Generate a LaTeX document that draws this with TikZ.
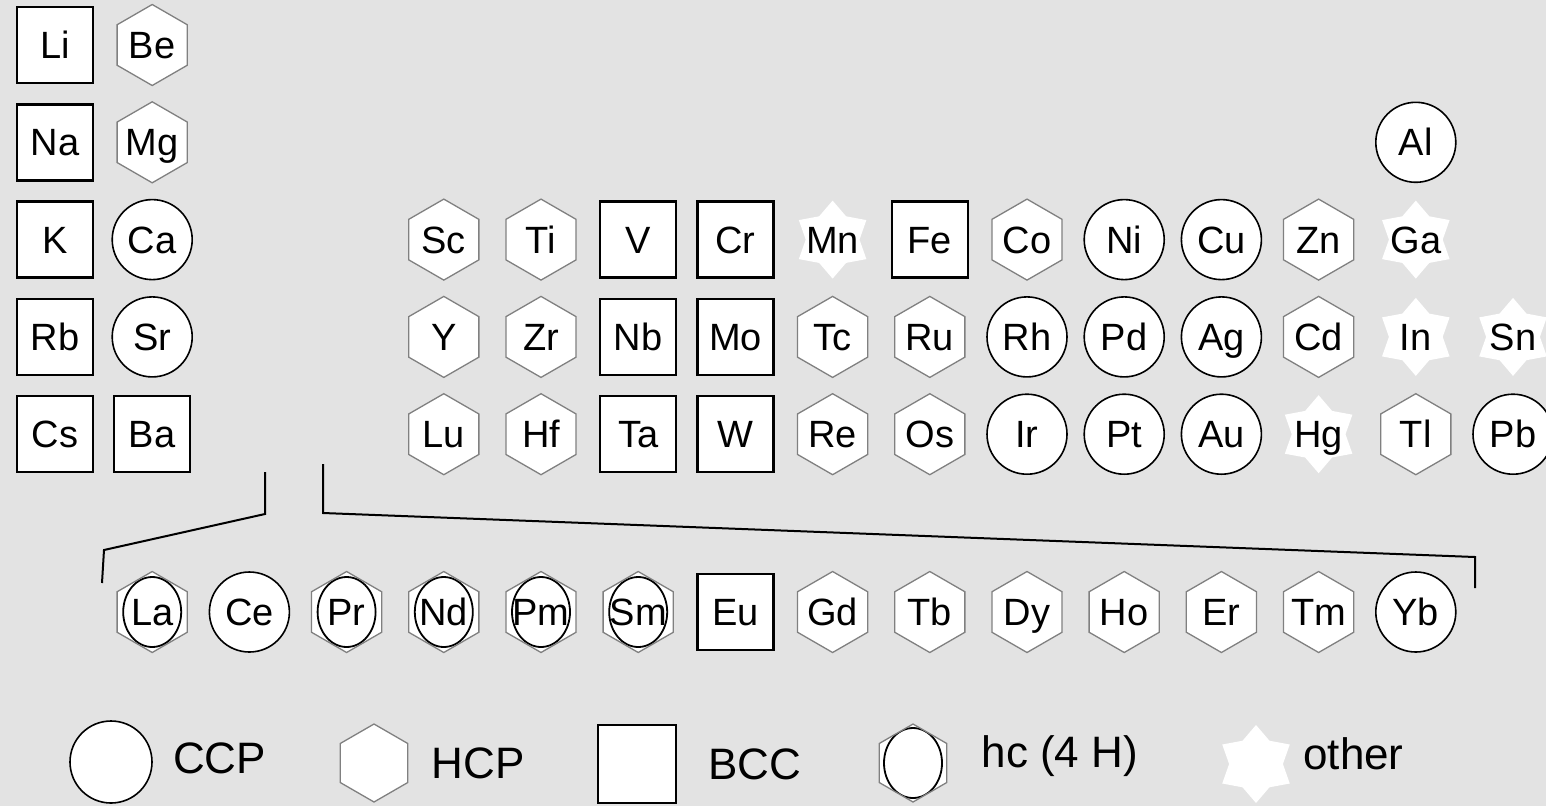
\documentclass[tikz,border=0pt]{standalone}
\usepackage{fontspec}
\setmainfont{Liberation Sans}
\usetikzlibrary{shapes.geometric,positioning}
\definecolor{panel}{RGB}{227,227,227}
\tikzset{
  elem/.style={font=\fontsize{38}{40}\selectfont, inner sep=0pt, text height=27pt, text depth=0pt},
  legtext/.style={font=\fontsize{44}{46}\selectfont, inner sep=0pt},
  bcc/.style={rectangle, draw, line width=2.4pt, fill=white, minimum size=76pt, inner sep=0pt},
  ccp/.style={circle, draw, line width=1.6pt, fill=white, minimum size=80pt, inner sep=0pt},
  hcp/.style={regular polygon, regular polygon sides=6, regular polygon rotate=30,
    draw=gray, line width=1.3pt, fill=white, minimum size=81pt, inner sep=0pt},
  hc/.style={hcp, path picture={\draw[draw=black, line width=1.8pt] (path picture bounding box.center)
    ellipse [x radius=29pt, y radius=35pt];}},
  other/.style={star, star points=6, star point ratio=1.45, fill=white, minimum size=78pt, inner sep=0pt},
  bracket/.style={line width=2pt}
}
\begin{document}
\begin{tikzpicture}[x=1pt, y=-1pt]
  \path[use as bounding box, fill=panel] (0,0) rectangle (1546,806);

  % main block
  \foreach \c/\r/\el/\kind in {1/1/Li/bcc, 2/1/Be/hcp,
      1/2/Na/bcc, 2/2/Mg/hcp, 15/2/Al/ccp,
      1/3/K/bcc, 2/3/Ca/ccp, 5/3/Sc/hcp, 6/3/Ti/hcp, 7/3/V/bcc, 8/3/Cr/bcc, 9/3/Mn/other,
      10/3/Fe/bcc, 11/3/Co/hcp, 12/3/Ni/ccp, 13/3/Cu/ccp, 14/3/Zn/hcp, 15/3/Ga/other,
      1/4/Rb/bcc, 2/4/Sr/ccp, 5/4/Y/hcp, 6/4/Zr/hcp, 7/4/Nb/bcc, 8/4/Mo/bcc, 9/4/Tc/hcp,
      10/4/Ru/hcp, 11/4/Rh/ccp, 12/4/Pd/ccp, 13/4/Ag/ccp, 14/4/Cd/hcp, 15/4/In/other, 16/4/Sn/other,
      1/5/Cs/bcc, 2/5/Ba/bcc, 5/5/Lu/hcp, 6/5/Hf/hcp, 7/5/Ta/bcc, 8/5/W/bcc, 9/5/Re/hcp,
      10/5/Os/hcp, 11/5/Ir/ccp, 12/5/Pt/ccp, 13/5/Au/ccp, 14/5/Hg/other, 15/5/Tl/hcp, 16/5/Pb/ccp} {
      \node[\kind, label={[elem]center:\el}] (\el) at ({55+(\c-1)*97.2},{45+(\r-1)*97.3}) {};
    }

  % lanthanides
  \foreach \c/\el/\kind in {2/La/hc, 3/Ce/ccp, 4/Pr/hc, 5/Nd/hc, 6/Pm/hc, 7/Sm/hc, 8/Eu/bcc,
      9/Gd/hcp, 10/Tb/hcp, 11/Dy/hcp, 12/Ho/hcp, 13/Er/hcp, 14/Tm/hcp, 15/Yb/ccp} {
      \node[\kind, label={[elem]center:\el}] (\el) at ({55+(\c-1)*97.2},612) {};
    }

  \coordinate (lantop) at (265,472);
  \coordinate (lanbend) at (265,514);
  \coordinate (lanfoot) at (104,550);
  \coordinate (lanend) at (102,583);
  \coordinate (bloctop) at (323,464);
  \coordinate (blocbend) at (323,513);
  \coordinate (blocfoot) at (1475,557);
  \coordinate (blocend) at (1475,588);
  \draw[bracket] (lantop) -- (lanbend) -- (lanfoot) -- (lanend);
  \draw[bracket] (bloctop) -- (blocbend) -- (blocfoot) -- (blocend);

  % legend
  \node[ccp, minimum size=82pt] (legccp) at (111,762) {};
  \node[legtext, right=20pt of legccp, yshift=4pt] (ccptext) {CCP};
  \node[hcp, minimum size=78pt] (leghcp) at (374,763) {};
  \node[legtext, right=23pt of leghcp] (hcptext) {HCP};
  \node[bcc, minimum size=78pt] (legbcc) at (637,764) {};
  \node[legtext, right=31pt of legbcc] (bcctext) {BCC};
  \node[hc, minimum size=78pt] (leghc) at (913,763) {};
  \node[legtext, right=34pt of leghc, yshift=7pt] (hctext) {hc (4 H)};
  \node[other] (legother) at (1256,764) {};
  \node[legtext, right=20pt of legother, yshift=10pt] (othertext) {other};
\end{tikzpicture}
\end{document}
